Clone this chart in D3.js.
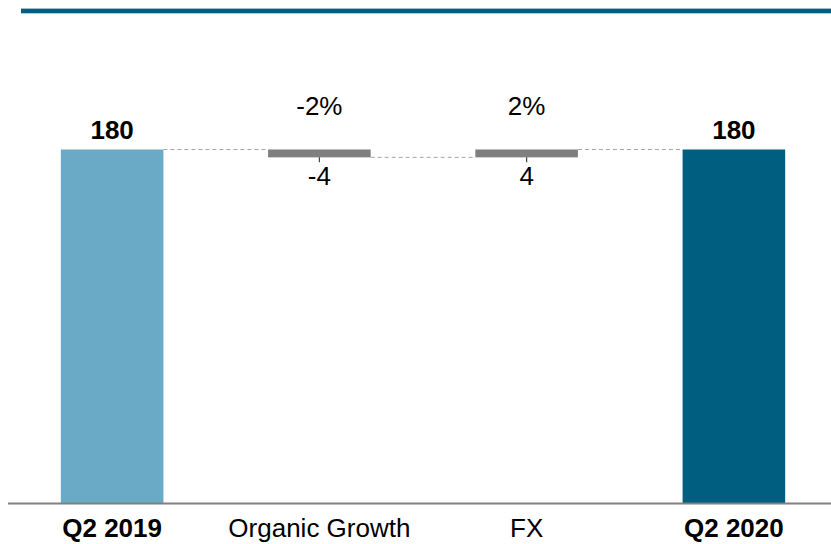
<!DOCTYPE html>
<html>
<head>
<meta charset="utf-8">
<script src="https://cdn.jsdelivr.net/npm/d3@7"></script>
<style>
  html, body { margin: 0; padding: 0; background: #ffffff; }
  svg { display: block; }
  text { font-family: "Liberation Sans", Arial, sans-serif; }
</style>
</head>
<body>
<svg id="chart" width="831" height="544"></svg>
<script>
// Bridge from Q2 2019 to Q2 2020
const categories = ["Q2 2019", "Organic Growth", "FX", "Q2 2020"];
const kinds = ["total", "delta", "delta", "total"];
const values = [180, -4, 4, 180];
const valueLabels = ["180", "-4", "4", "180"];
const pctLabels = ["", "-2%", "2%", ""];

const W = 831, H = 544;
const FS = 26;
const svg = d3.select("#chart");

// Header rule
svg.append("rect")
  .attr("x", 21).attr("y", 8.6)
  .attr("width", W - 21).attr("height", 4.7)
  .attr("fill", "#005f80");

const x = d3.scaleBand()
  .domain(categories)
  .range([8.5, 837.5])
  .paddingInner(0.505)
  .paddingOuter(0.2525);

const y = d3.scaleLinear()
  .domain([0, 180])
  .range([503, 149.5]);

// Compute bar extents for the waterfall
let running = 0;
const bars = categories.map((c, i) => {
  let lo, hi;
  if (kinds[i] === "total") {
    lo = 0; hi = values[i]; running = values[i];
  } else {
    const start = running, end = running + values[i];
    lo = Math.min(start, end); hi = Math.max(start, end);
    running = end;
  }
  return { cat: c, kind: kinds[i], value: values[i], lo, hi, end: running, i };
});

const fills = ["#6aaac6", "#7f7f7f", "#7f7f7f", "#005f80"];

// Dashed connectors between consecutive bars
for (let i = 0; i < bars.length - 1; i++) {
  const lvl = bars[i].end;
  svg.append("line")
    .attr("x1", x(bars[i].cat) + x.bandwidth())
    .attr("x2", x(bars[i + 1].cat))
    .attr("y1", y(lvl)).attr("y2", y(lvl))
    .attr("stroke", "#a6a6a6")
    .attr("stroke-width", 1)
    .attr("stroke-dasharray", "4,3");
}

svg.selectAll("rect.bar")
  .data(bars)
  .join("rect")
  .attr("class", "bar")
  .attr("x", d => x(d.cat))
  .attr("width", x.bandwidth())
  .attr("y", d => y(d.hi))
  .attr("height", d => y(d.lo) - y(d.hi))
  .attr("fill", (d, i) => fills[i]);

// Small ticks under the delta bars
const deltas = bars.filter(d => d.kind === "delta");
svg.selectAll("line.tick")
  .data(deltas)
  .join("line")
  .attr("class", "tick")
  .attr("x1", d => x(d.cat) + x.bandwidth() / 2)
  .attr("x2", d => x(d.cat) + x.bandwidth() / 2)
  .attr("y1", d => y(d.lo))
  .attr("y2", d => y(d.lo) + 5)
  .attr("stroke", "#404040")
  .attr("stroke-width", 1.2);

// Value labels
svg.selectAll("text.total")
  .data(bars.filter(d => d.kind === "total"))
  .join("text")
  .attr("class", "total")
  .attr("x", d => x(d.cat) + x.bandwidth() / 2)
  .attr("y", d => y(d.hi) - 10.5)
  .attr("text-anchor", "middle")
  .attr("font-size", FS)
  .attr("font-weight", "bold")
  .attr("fill", "#000")
  .text(d => valueLabels[d.i]);

svg.selectAll("text.delta")
  .data(deltas)
  .join("text")
  .attr("class", "delta")
  .attr("x", d => x(d.cat) + x.bandwidth() / 2)
  .attr("y", d => y(d.lo) + 28)
  .attr("text-anchor", "middle")
  .attr("font-size", FS)
  .attr("fill", "#000")
  .text(d => valueLabels[d.i]);

svg.selectAll("text.pct")
  .data(deltas)
  .join("text")
  .attr("class", "pct")
  .attr("x", d => x(d.cat) + x.bandwidth() / 2)
  .attr("y", 115)
  .attr("text-anchor", "middle")
  .attr("font-size", FS)
  .attr("fill", "#000")
  .text(d => pctLabels[d.i]);

// Baseline axis
const axis = svg.append("g")
  .attr("transform", `translate(0,${y(0)})`)
  .call(d3.axisBottom(x).tickSize(0).tickPadding(0));
axis.select(".domain").remove();
axis.append("line")
  .attr("x1", 8).attr("x2", W)
  .attr("y1", 0.5).attr("y2", 0.5)
  .attr("stroke", "#808080")
  .attr("stroke-width", 2);
axis.selectAll(".tick text")
  .attr("y", 34)
  .attr("dy", null)
  .attr("font-size", FS)
  .attr("font-family", "'Liberation Sans', Arial, sans-serif")
  .attr("fill", "#000")
  .attr("font-weight", (d, i) => kinds[i] === "total" ? "bold" : "normal");
</script>
</body>
</html>
